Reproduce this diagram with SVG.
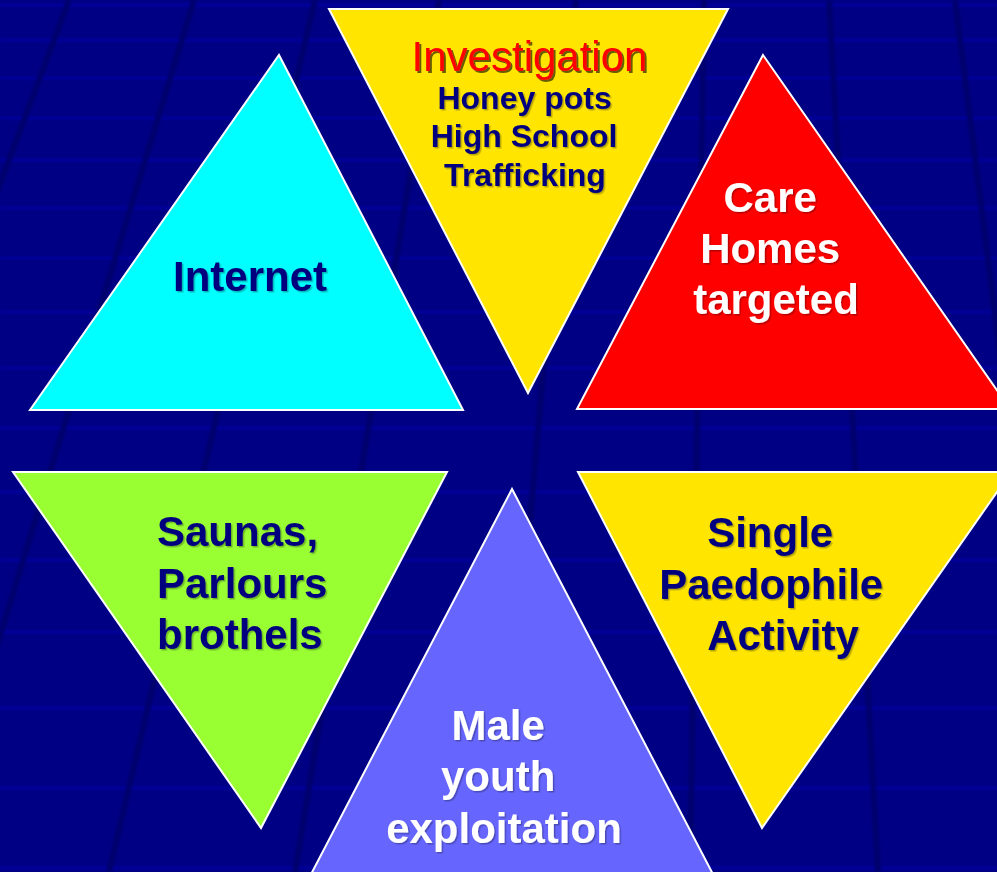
<svg xmlns="http://www.w3.org/2000/svg" width="997" height="872" viewBox="0 0 997 872">
  <defs>
    <filter id="sh" x="-10%" y="-10%" width="130%" height="140%">
      <feDropShadow dx="1.5" dy="1.5" stdDeviation="0.5" flood-color="#000000" flood-opacity="0.28"/>
    </filter>
    <filter id="shr" x="-10%" y="-10%" width="130%" height="140%">
      <feDropShadow dx="2" dy="2" stdDeviation="0.5" flood-color="#000000" flood-opacity="0.6"/>
    </filter>
    <filter id="soft" x="-5%" y="-5%" width="110%" height="110%">
      <feGaussianBlur stdDeviation="1.2"/>
    </filter>
  </defs>
  <style>
    .tri { stroke: #ffffff; stroke-width: 2; stroke-linejoin: miter; }
    .t { font-family: "Liberation Sans", Arial, sans-serif; font-weight: bold; font-size: 42px; text-anchor: middle; filter: url(#sh); }
    .navy { fill: #06067e; }
    .white { fill: #ffffff; }
    .hl { stroke: #00009e; stroke-width: 3; }
    .vl { stroke: #00006e; stroke-width: 6; }
  </style>

  <g id="background">
    <rect x="0" y="0" width="997" height="872" fill="#000084"/>
    <g filter="url(#soft)">
      <line class="hl" x1="0" y1="5" x2="997" y2="5"/>
      <line class="hl" x1="0" y1="40" x2="997" y2="40"/>
      <line class="hl" x1="0" y1="78" x2="997" y2="78"/>
      <line class="hl" x1="0" y1="118" x2="997" y2="118"/>
      <line class="hl" x1="0" y1="160" x2="997" y2="160"/>
      <line class="hl" x1="0" y1="208" x2="997" y2="208"/>
      <line class="hl" x1="0" y1="258" x2="997" y2="258"/>
      <line class="hl" x1="0" y1="312" x2="997" y2="312"/>
      <line class="hl" x1="0" y1="368" x2="997" y2="368"/>
      <line class="hl" x1="0" y1="428" x2="997" y2="428"/>
      <line class="hl" x1="0" y1="492" x2="997" y2="492"/>
      <line class="hl" x1="0" y1="560" x2="997" y2="560"/>
      <line class="hl" x1="0" y1="632" x2="997" y2="632"/>
      <line class="hl" x1="0" y1="708" x2="997" y2="708"/>
      <line class="hl" x1="0" y1="788" x2="997" y2="788"/>
      <line class="hl" x1="0" y1="868" x2="997" y2="868"/>
      <line class="vl" x1="69" y1="0" x2="-258" y2="872"/>
      <line class="vl" x1="194" y1="0" x2="-72" y2="872"/>
      <line class="vl" x1="315" y1="0" x2="109" y2="872"/>
      <line class="vl" x1="439" y1="0" x2="295" y2="872"/>
      <line class="vl" x1="576" y1="0" x2="499" y2="872"/>
      <line class="vl" x1="704" y1="0" x2="690" y2="872"/>
      <line class="vl" x1="829" y1="0" x2="878" y2="872"/>
      <line class="vl" x1="955" y1="0" x2="1066" y2="872"/>
    </g>
  </g>

  <g id="node-internet">
    <polygon class="tri" points="279,55 463,410 30,410" fill="#00ffff"/>
    <text class="t navy" x="250" y="291">Internet</text>
  </g>

  <g id="node-investigation">
    <polygon class="tri" points="329,9 728,9 528,393" fill="#ffe500"/>
    <text x="529.5" y="71" font-family="Liberation Sans, Arial, sans-serif" font-size="42" text-anchor="middle" fill="#ff0000" filter="url(#shr)">Investigation</text>
    <text class="t navy" style="font-size:32px">
      <tspan x="529" y="109">Honey pots</tspan>
      <tspan x="528.5" y="147">High School</tspan>
      <tspan x="525" y="186">Trafficking</tspan>
    </text>
  </g>

  <g id="node-care-homes">
    <polygon class="tri" points="763,55 1010,409 577,409" fill="#ff0000"/>
    <text class="t white">
      <tspan x="776" y="212">Care</tspan>
      <tspan x="776" y="263">Homes</tspan>
      <tspan x="776" y="314">targeted</tspan>
    </text>
  </g>

  <g id="node-saunas">
    <polygon class="tri" points="13,472 447,472 261,828" fill="#99ff33"/>
    <text class="t navy" style="text-anchor:start">
      <tspan x="157" y="546">Saunas,</tspan>
      <tspan x="157" y="598">Parlours</tspan>
      <tspan x="157" y="649">brothels</tspan>
    </text>
  </g>

  <g id="node-male-youth">
    <polygon class="tri" points="512,489 716,880 308,880" fill="#6666ff"/>
    <text class="t white">
      <tspan x="504" y="740">Male</tspan>
      <tspan x="504" y="791">youth</tspan>
      <tspan x="504" y="843">exploitation</tspan>
    </text>
  </g>

  <g id="node-single">
    <polygon class="tri" points="578,472 1011,472 762,828" fill="#ffe500"/>
    <text class="t navy">
      <tspan x="776" y="547">Single</tspan>
      <tspan x="777" y="599">Paedophile</tspan>
      <tspan x="783" y="650">Activity</tspan>
    </text>
  </g>

  <g id="connectors"></g>
</svg>
